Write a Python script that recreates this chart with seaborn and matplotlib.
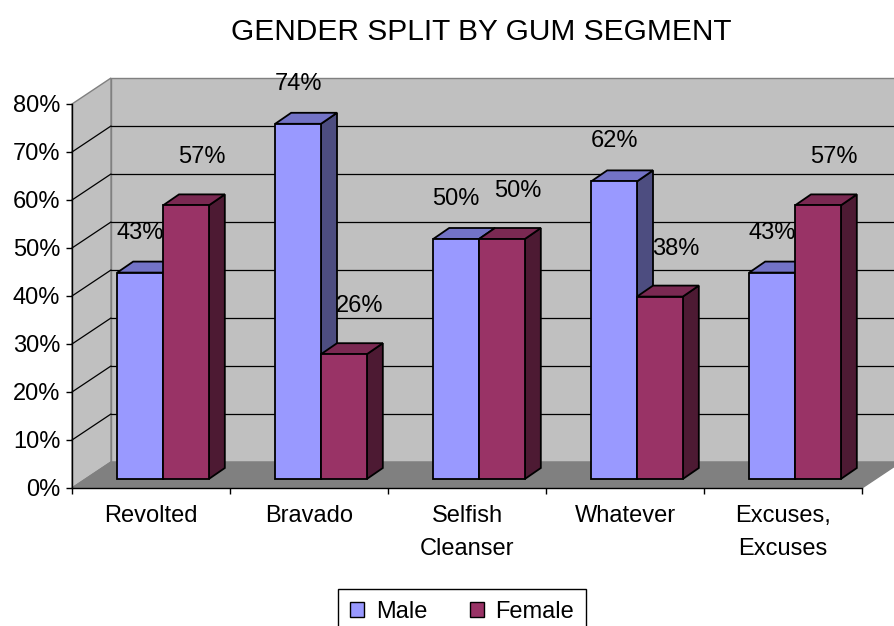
import numpy as np
import pandas as pd
import matplotlib
matplotlib.use("Agg")
import matplotlib.pyplot as plt
import seaborn as sns
from matplotlib.patches import Polygon, Patch

# data
segments = ["Revolted", "Bravado", "Selfish\nCleanser", "Whatever", "Excuses,\nExcuses"]
male = [0.43, 0.74, 0.50, 0.62, 0.43]
female = [0.57, 0.26, 0.50, 0.38, 0.57]
genders = ["Male", "Female"]
yticks = [0.0, 0.1, 0.2, 0.3, 0.4, 0.5, 0.6, 0.7, 0.8]

# front / top / side colours per gender
front_cols = ["#9999FF", "#993366"]
top_cols = ["#7373C6", "#7A2952"]
side_cols = ["#4D4D80", "#4D1A33"]

df = pd.DataFrame({
    "segment": segments * 2,
    "gender": ["Male"] * len(male) + ["Female"] * len(female),
    "share": male + female,
})

sns.set_theme(style="white")
plt.rcParams["font.family"] = ["Liberation Sans", "DejaVu Sans"]
plt.rcParams["text.color"] = "black"
plt.rcParams["xtick.color"] = "black"
plt.rcParams["ytick.color"] = "black"

fig = plt.figure(figsize=(8.95, 6.26), dpi=100)
ax = fig.add_axes([72 / 895, 1 - 488 / 626, 790 / 895, 384 / 626])
ax.set_facecolor("none")

# pixel sizes in data units, for the fake 3d look
PX = 5 / 790
PY = 0.8 / 384
wall_dx, wall_dy = 39 * PX, 26 * PY
bar_dx, bar_dy = 12 * PX, 9 * PY
dep_dx, dep_dy = 16 * PX, 11 * PY
# label offsets (px) per gender
lab_dx = [0, 16]
lab_dy = [40, 48]

x0, x1 = -0.5, len(segments) - 0.5
top = yticks[-1]

# back wall, side wall and floor
back = Polygon([(x0 + wall_dx, wall_dy), (x1 + wall_dx, wall_dy),
                (x1 + wall_dx, top + wall_dy), (x0 + wall_dx, top + wall_dy)],
               closed=True, facecolor="#C0C0C0", edgecolor="#808080", lw=1,
               zorder=0.5, clip_on=False)
side = Polygon([(x0, 0), (x0, top), (x0 + wall_dx, top + wall_dy), (x0 + wall_dx, wall_dy)],
               closed=True, facecolor="#C0C0C0", edgecolor="#808080", lw=1,
               zorder=0.5, clip_on=False)
floor = Polygon([(x0, 0), (x1, 0), (x1 + wall_dx, wall_dy), (x0 + wall_dx, wall_dy)],
                closed=True, facecolor="#808080", edgecolor="#808080", lw=1,
                zorder=0.7, clip_on=False)
ax.add_patch(back)
ax.add_patch(side)
for t in yticks[1:-1]:
    ax.plot([x0 + wall_dx, x1 + wall_dx], [t + wall_dy, t + wall_dy], color="black", lw=0.9,
            zorder=0.6, clip_on=False)
    ax.plot([x0, x0 + wall_dx], [t, t + wall_dy], color="black", lw=0.9, zorder=0.6, clip_on=False)
ax.add_patch(floor)

sns.barplot(data=df, x="segment", y="share", hue="gender", hue_order=genders,
            palette=front_cols, width=0.58, saturation=1, edgecolor="black",
            linewidth=1.3, legend=False, ax=ax)

for h, cont in enumerate(ax.containers):
    for i, p in enumerate(cont.patches):
        p.set_x(p.get_x() + bar_dx)
        p.set_y(bar_dy)
        z = 10 + 4 * i + 2 * h
        p.set_zorder(z + 1)
        p.set_clip_on(False)
        xl, w, hgt = p.get_x(), p.get_width(), p.get_height()
        yb, yt = bar_dy, bar_dy + hgt
        xr = xl + w
        sd = Polygon([(xr, yb), (xr + dep_dx, yb + dep_dy), (xr + dep_dx, yt + dep_dy), (xr, yt)],
                     closed=True, facecolor=side_cols[h], edgecolor="black", lw=1.3,
                     zorder=z, clip_on=False)
        tp = Polygon([(xl, yt), (xl + dep_dx, yt + dep_dy), (xr + dep_dx, yt + dep_dy), (xr, yt)],
                     closed=True, facecolor=top_cols[h], edgecolor="black", lw=1.3,
                     zorder=z, clip_on=False)
        ax.add_patch(sd)
        ax.add_patch(tp)
        ax.text(xl + w / 2 + lab_dx[h] * PX, yt + lab_dy[h] * PY, f"{round(hgt * 100)}%",
                ha="center", va="center", fontsize=17, color="black", zorder=60)

ax.set_xlim(x0, x1)
ax.set_ylim(0, top)
ax.set_xlabel("")
ax.set_ylabel("")
ax.set_yticks(yticks)
ax.set_yticklabels([f"{round(t * 100)}%" for t in yticks], fontsize=17)
ax.set_xticks(range(len(segments)))
ax.set_xticklabels(segments, fontsize=17, linespacing=1.65)
ax.set_xticks(np.arange(x0, x1 + 0.01, 1), minor=True)
ax.tick_params(axis="x", which="major", bottom=False, length=0, pad=12)
ax.tick_params(axis="x", which="minor", bottom=True, length=4.5, width=1, color="black", direction="out")
ax.tick_params(axis="y", left=True, length=4.5, width=1, color="black", direction="out", pad=4)
for s in ["top", "right"]:
    ax.spines[s].set_visible(False)
for s in ["left", "bottom"]:
    ax.spines[s].set_color("black")
    ax.spines[s].set_linewidth(1)

fig.text(481 / 895, 1 - 32 / 626, "GENDER SPLIT BY GUM SEGMENT", ha="center", va="center",
         fontsize=21.5, color="black")

handles = [Patch(facecolor=c, edgecolor="black") for c in front_cols]
leg = fig.legend(handles, genders, loc="upper center", bbox_to_anchor=(462 / 895, 1 - 589 / 626),
                 ncol=2, frameon=True, fancybox=False, edgecolor="black", framealpha=1,
                 fontsize=17, handlelength=0.6, handleheight=0.6, handletextpad=0.5,
                 columnspacing=1.8, borderpad=0.5, borderaxespad=0)
leg.get_frame().set_linewidth(1)
for t in leg.get_texts():
    t.set_color("black")

fig.savefig("out.png", dpi=100, facecolor="white")
